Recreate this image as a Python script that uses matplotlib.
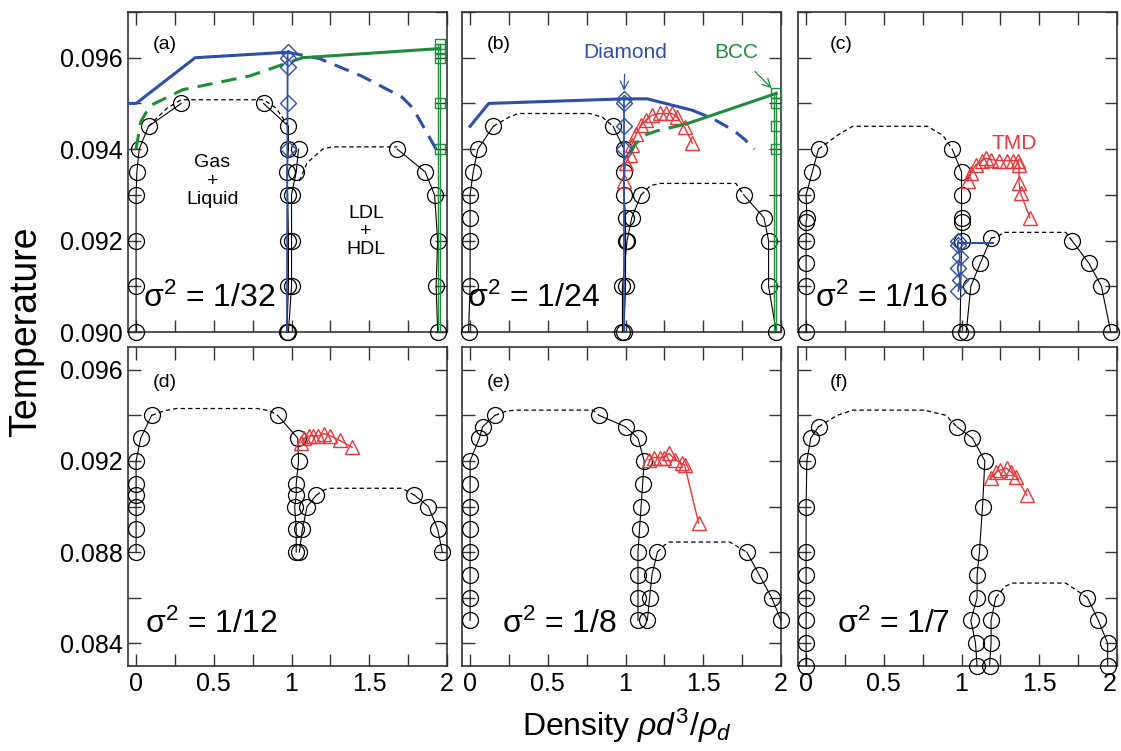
import matplotlib
matplotlib.use('Agg')
import matplotlib.pyplot as plt
from matplotlib.ticker import MultipleLocator, FuncFormatter

plt.rcParams['font.family'] = ['Liberation Sans', 'DejaVu Sans']
plt.rcParams['mathtext.fontset'] = 'custom'
plt.rcParams['mathtext.rm'] = 'Liberation Sans'
plt.rcParams['mathtext.it'] = 'Liberation Sans:italic'
plt.rcParams['mathtext.sf'] = 'Liberation Sans'

BLUE = '#2f4fa6'
GREEN = '#1e8c3a'
RED = '#e8363a'

# ---- panel (a) sigma^2 = 1/32
a_vap_x = [0.0, 0.0, 0.0, 0.0, 0.005, 0.02, 0.08, 0.29]
a_vap_y = [0.090, 0.091, 0.092, 0.093, 0.0935, 0.094, 0.0945, 0.0950]
a_gld_x = [0.08, 0.2, 0.29, 0.82, 0.9, 0.98]
a_gld_y = [0.0945, 0.0949, 0.09508, 0.09508, 0.0949, 0.0945]
a_liq_x = [0.82, 0.98, 0.98, 0.97, 0.975, 0.98, 0.98, 0.97]
a_liq_y = [0.0950, 0.0945, 0.0940, 0.0935, 0.0930, 0.0920, 0.0910, 0.0900]
a_ldl_x = [1.045, 1.03, 1.0, 1.0, 1.0, 0.98]
a_ldl_y = [0.094, 0.0935, 0.093, 0.092, 0.091, 0.090]
a_lld_x = [1.05, 1.1, 1.2, 1.26, 1.68]
a_lld_y = [0.0933, 0.0937, 0.0940, 0.09405, 0.09405]
a_hdl_x = [1.68, 1.86, 1.92, 1.94, 1.93, 1.94]
a_hdl_y = [0.0940, 0.0935, 0.0930, 0.0920, 0.0910, 0.0900]
a_dia_line_x = [-0.052, 0.0, 0.38, 0.975]
a_dia_line_y = [0.0950, 0.0950, 0.0960, 0.09612]
a_dia_dash_x = [0.975, 1.18, 1.45, 1.71, 1.78, 1.93]
a_dia_dash_y = [0.09612, 0.09598, 0.0956, 0.09514, 0.0949, 0.0940]
a_dia_x = [0.975, 0.975, 0.975, 0.975, 0.975]
a_dia_y = [0.09612, 0.0960, 0.0958, 0.0950, 0.0940]
a_bcc_dash_x = [0.0, 0.03, 0.09, 0.30, 0.73, 1.07]
a_bcc_dash_y = [0.0940, 0.0946, 0.09495, 0.0953, 0.0956, 0.0960]
a_bcc_line_x = [1.07, 1.955]
a_bcc_line_y = [0.0960, 0.0962]
a_bcc_x = [1.955, 1.955, 1.955, 1.955, 1.955]
a_bcc_y = [0.0963, 0.0962, 0.0960, 0.0950, 0.0940]

# ---- panel (b) sigma^2 = 1/24
b_vap_x = [-0.01, 0.0, 0.0, 0.0, 0.0, 0.02, 0.05, 0.15]
b_vap_y = [0.090, 0.091, 0.092, 0.0925, 0.093, 0.0935, 0.094, 0.0945]
b_gld_x = [0.15, 0.25, 0.31, 0.77, 0.85, 0.92]
b_gld_y = [0.0945, 0.0947, 0.09478, 0.09478, 0.0947, 0.0945]
b_liq_x = [0.92, 0.99, 0.99, 0.99, 1.0, 1.0, 1.0, 0.99]
b_liq_y = [0.0945, 0.0940, 0.0935, 0.0930, 0.0925, 0.0920, 0.0910, 0.0900]
b_ldl_x = [1.10, 1.04, 1.01, 0.98, 0.98]
b_ldl_y = [0.0930, 0.0925, 0.0920, 0.0910, 0.0900]
b_lld_x = [1.10, 1.16, 1.22, 1.71, 1.76]
b_lld_y = [0.0930, 0.0932, 0.09325, 0.09325, 0.0930]
b_hdl_x = [1.76, 1.89, 1.92, 1.92, 1.97]
b_hdl_y = [0.0930, 0.0925, 0.0920, 0.0910, 0.0900]
b_dia_line_x = [0.0, 0.12, 0.99, 1.14, 1.43]
b_dia_line_y = [0.0945, 0.0950, 0.0951, 0.0951, 0.09485]
b_dia_dash_x = [1.43, 1.56, 1.70, 1.77, 1.83]
b_dia_dash_y = [0.09485, 0.09467, 0.0944, 0.0942, 0.0940]
b_dia_x = [0.99, 0.99, 0.99, 0.99]
b_dia_y = [0.0951, 0.0950, 0.0945, 0.0940]
b_bcc_dash_x = [1.03, 1.06, 1.12, 1.2, 1.39]
b_bcc_dash_y = [0.0939, 0.0941, 0.0943, 0.0944, 0.09455]
b_bcc_line_x = [1.39, 1.97]
b_bcc_line_y = [0.09455, 0.09522]
b_bcc_x = [1.97, 1.97, 1.97, 1.97]
b_bcc_y = [0.09522, 0.0950, 0.0945, 0.0940]
b_tmd_x = [0.99, 1.0, 1.03, 1.04, 1.07, 1.10, 1.13, 1.17, 1.22, 1.26, 1.30, 1.33, 1.38, 1.43]
b_tmd_y = [0.0933, 0.0937, 0.09387, 0.0941, 0.09434, 0.09452, 0.09463, 0.09474,
           0.09478, 0.09478, 0.09478, 0.0947, 0.09448, 0.09413]

# ---- panel (c) sigma^2 = 1/16
c_vap_x = [0.0, 0.0, 0.0, 0.0, 0.0, 0.005, 0.0, 0.04, 0.08]
c_vap_y = [0.090, 0.091, 0.0915, 0.092, 0.0924, 0.0925, 0.093, 0.0935, 0.094]
c_gld_x = [0.08, 0.2, 0.30, 0.78, 0.88, 0.94]
c_gld_y = [0.094, 0.0943, 0.0945, 0.0945, 0.0943, 0.094]
c_liq_x = [0.94, 1.0, 1.0, 1.0, 1.0, 1.0, 0.99]
c_liq_y = [0.094, 0.0935, 0.093, 0.0925, 0.0924, 0.092, 0.090]
c_ldl_x = [1.19, 1.12, 1.06, 1.03]
c_ldl_y = [0.09205, 0.0915, 0.091, 0.090]
c_lld_x = [1.19, 1.24, 1.27, 1.67, 1.71]
c_lld_y = [0.09205, 0.0921, 0.09218, 0.09218, 0.0920]
c_hdl_x = [1.71, 1.82, 1.90, 1.96]
c_hdl_y = [0.0920, 0.0915, 0.0910, 0.0900]
c_dia_x = [0.98, 0.99, 0.975, 0.99, 0.975, 0.98]
c_dia_y = [0.0909, 0.09114, 0.0914, 0.09164, 0.0919, 0.0920]
c_dia_line_x = [0.98, 1.2]
c_dia_line_y = [0.09195, 0.09195]
c_tmd_x = [1.04, 1.06, 1.09, 1.13, 1.16, 1.19, 1.24, 1.29, 1.33, 1.36, 1.37, 1.37, 1.38, 1.44]
c_tmd_y = [0.0933, 0.09347, 0.09365, 0.09375, 0.0938, 0.09377, 0.09375, 0.09375,
           0.09375, 0.09375, 0.09365, 0.09325, 0.09303, 0.0925]

# ---- panel (d) sigma^2 = 1/12
d_vap_x = [0.0, 0.0, 0.0, 0.0, 0.0, 0.0, 0.03, 0.10]
d_vap_y = [0.088, 0.089, 0.090, 0.0905, 0.091, 0.092, 0.093, 0.094]
d_gld_x = [0.10, 0.18, 0.26, 0.78, 0.86, 0.91]
d_gld_y = [0.094, 0.0942, 0.0943, 0.0943, 0.0942, 0.094]
d_liq_x = [0.91, 1.04, 1.045, 1.03, 1.03, 1.02, 1.03, 1.03]
d_liq_y = [0.094, 0.093, 0.092, 0.091, 0.0905, 0.090, 0.089, 0.088]
d_ldl_x = [1.16, 1.10, 1.07, 1.05]
d_ldl_y = [0.0905, 0.090, 0.089, 0.088]
d_lld_x = [1.16, 1.2, 1.24, 1.71, 1.79]
d_lld_y = [0.0905, 0.0907, 0.0908, 0.0908, 0.0905]
d_hdl_x = [1.79, 1.88, 1.94, 1.97]
d_hdl_y = [0.0905, 0.090, 0.089, 0.088]
d_tmd_x = [1.06, 1.08, 1.11, 1.14, 1.17, 1.21, 1.25, 1.31, 1.39]
d_tmd_y = [0.0928, 0.0930, 0.0931, 0.0931, 0.0931, 0.0932, 0.0931, 0.0929, 0.0926]

# ---- panel (e) sigma^2 = 1/8
e_vap_x = [0.0, 0.0, 0.0, 0.0, 0.0, 0.0, 0.0, 0.0, 0.06, 0.08, 0.16]
e_vap_y = [0.085, 0.086, 0.087, 0.088, 0.089, 0.090, 0.091, 0.092, 0.093, 0.0935, 0.094]
e_gld_x = [0.16, 0.24, 0.30, 0.79, 0.83]
e_gld_y = [0.094, 0.0942, 0.09423, 0.09423, 0.094]
e_liq_x = [0.83, 1.0, 1.08, 1.12, 1.11, 1.10, 1.09, 1.08, 1.08, 1.08, 1.08]
e_liq_y = [0.094, 0.0935, 0.093, 0.092, 0.091, 0.090, 0.089, 0.088, 0.087, 0.086, 0.085]
e_ldl_x = [1.205, 1.17, 1.155, 1.14]
e_ldl_y = [0.088, 0.087, 0.086, 0.085]
e_lld_x = [1.205, 1.25, 1.28, 1.67, 1.78]
e_lld_y = [0.088, 0.0883, 0.08844, 0.08844, 0.088]
e_hdl_x = [1.78, 1.86, 1.94, 2.0]
e_hdl_y = [0.088, 0.087, 0.086, 0.085]
e_tmd_x = [1.15, 1.18, 1.22, 1.25, 1.28, 1.32, 1.36, 1.38, 1.47]
e_tmd_y = [0.09204, 0.09215, 0.09215, 0.09215, 0.09233, 0.09204, 0.0919, 0.09182, 0.08927]

# ---- panel (f) sigma^2 = 1/7
f_vap_x = [0.0, 0.0, 0.0, 0.0, 0.0, 0.0, 0.0, 0.005, 0.03, 0.08]
f_vap_y = [0.083, 0.084, 0.085, 0.086, 0.087, 0.088, 0.090, 0.092, 0.093, 0.0935]
f_gld_x = [0.08, 0.2, 0.30, 0.76, 0.9, 0.97]
f_gld_y = [0.0935, 0.0940, 0.09423, 0.09423, 0.0940, 0.0935]
f_liq_x = [0.97, 1.07, 1.15, 1.135, 1.115, 1.10, 1.10, 1.06, 1.09, 1.10]
f_liq_y = [0.0935, 0.093, 0.092, 0.090, 0.088, 0.087, 0.086, 0.085, 0.084, 0.083]
f_ldl_x = [1.22, 1.19, 1.19, 1.18]
f_ldl_y = [0.086, 0.085, 0.084, 0.083]
f_lld_x = [1.22, 1.28, 1.33, 1.67, 1.81]
f_lld_y = [0.086, 0.0865, 0.08664, 0.08664, 0.086]
f_hdl_x = [1.81, 1.88, 1.94, 1.94]
f_hdl_y = [0.086, 0.085, 0.084, 0.083]
f_tmd_x = [1.19, 1.22, 1.25, 1.29, 1.32, 1.35, 1.42]
f_tmd_y = [0.09125, 0.0915, 0.0916, 0.09168, 0.0915, 0.0913, 0.0905]

sigma_labels = ['1/32', '1/24', '1/16', '1/12', '1/8', '1/7']
panel_letters = ['(a)', '(b)', '(c)', '(d)', '(e)', '(f)']


def circles(ax, x, y):
    ax.plot(x, y, '-', color='k', lw=0.8, marker='o', ms=11.5,
            mfc='none', mec='k', mew=0.9, zorder=3, clip_on=False)


def dashed(ax, x, y):
    ax.plot(x, y, color='k', lw=0.9, dashes=(3.5, 2.5), zorder=2)


def envelope(ax, vx, vy, gx, gy, lx, ly, dx, dy, hx, hy, mx, my):
    dashed(ax, gx, gy)
    dashed(ax, mx, my)
    circles(ax, vx, vy)
    circles(ax, lx, ly)
    circles(ax, dx, dy)
    circles(ax, hx, hy)


def tmd(ax, x, y):
    ax.plot(x, y, '-', color=RED, lw=1.0, marker='^', ms=9.5,
            mfc='none', mec=RED, mew=1.0, zorder=4)


fig = plt.figure(figsize=(11.21, 7.51), dpi=100)
W, H = 1121.0, 751.0
lefts = [128, 462, 798]
rows = [(12, 332), (347, 666)]
axes = []
for r, (top, bot) in enumerate(rows):
    for c, lft in enumerate(lefts):
        ax = fig.add_axes([lft / W, 1 - bot / H, 319 / W, (bot - top) / H])
        axes.append(ax)

for i, ax in enumerate(axes):
    top_row = i < 3
    ax.set_xlim(-0.052, 2.0)
    if top_row:
        ax.set_ylim(0.090, 0.097)
        ax.yaxis.set_major_locator(MultipleLocator(0.001))
        ax.yaxis.set_major_formatter(FuncFormatter(
            lambda v, p: f'{v:.3f}' if round(v * 1000) % 2 == 0 and v < 0.0965 else ''))
    else:
        ax.set_ylim(0.083, 0.097)
        ax.yaxis.set_major_locator(MultipleLocator(0.002))
        ax.yaxis.set_major_formatter(FuncFormatter(
            lambda v, p: f'{v:.3f}' if round(v * 1000) % 4 == 0 and v < 0.0965 else ''))
    ax.xaxis.set_major_locator(MultipleLocator(0.25))
    ax.xaxis.set_major_formatter(FuncFormatter(
        lambda v, p: f'{v:g}' if abs(v * 2 - round(v * 2)) < 1e-6 and v >= 0 else ''))
    ax.tick_params(direction='in', length=9, width=1.0, top=True, right=True,
                   labelsize=18, pad=4, color='#333333')
    if top_row:
        ax.tick_params(labelbottom=False)
    if i % 3 != 0:
        ax.tick_params(labelleft=False)
    for s in ax.spines.values():
        s.set_linewidth(1.2)
        s.set_color('#333333')
    ax.text(0.078 if i % 3 != 2 else 0.10, 0.897 if top_row else 0.89, panel_letters[i],
            transform=ax.transAxes, fontsize=14, va='center', ha='left')

sig_pos = [(0.047, 0.078), (0.016, 0.078), (0.053, 0.078),
           (0.053, 0.103), (0.125, 0.103), (0.122, 0.103)]
for i, ax in enumerate(axes):
    ax.text(sig_pos[i][0], sig_pos[i][1], r'$\mathrm{\sigma}^{2}$ = ' + sigma_labels[i],
            transform=ax.transAxes, fontsize=23, ha='left', va='baseline', zorder=6)

ax_a, ax_b, ax_c, ax_d, ax_e, ax_f = axes

# (a)
ax = ax_a
ax.plot(a_dia_line_x, a_dia_line_y, '-', color=BLUE, lw=2.2, zorder=5)
ax.plot(a_dia_dash_x, a_dia_dash_y, color=BLUE, lw=2.2, dashes=(5, 3), zorder=5)
ax.plot(a_bcc_dash_x, a_bcc_dash_y, color=GREEN, lw=2.2, dashes=(5, 3), zorder=5)
ax.plot(a_bcc_line_x, a_bcc_line_y, '-', color=GREEN, lw=2.2, zorder=5)
ax.plot([a_bcc_x[0], a_bcc_x[0]], [a_bcc_y[0], 0.090], '-', color=GREEN, lw=1.0, zorder=4)
ax.plot([a_bcc_x[0] - 0.015, a_bcc_x[0] - 0.015], [a_bcc_y[0], 0.090], '-', color=GREEN, lw=1.0, zorder=4)
envelope(ax, a_vap_x, a_vap_y, a_gld_x, a_gld_y, a_liq_x, a_liq_y,
         a_ldl_x, a_ldl_y, a_hdl_x, a_hdl_y, a_lld_x, a_lld_y)
ax.plot([a_dia_x[0], 0.97], [a_dia_y[0], 0.090], '-', color=BLUE, lw=1.3, zorder=5)
ax.plot(a_dia_x, a_dia_y, 'D', ms=8, mfc='none', mec=BLUE, mew=1.0, zorder=6)
ax.plot(a_bcc_x, a_bcc_y, 's', ms=7.5, mfc='none', mec=GREEN, mew=1.0, zorder=6, clip_on=False)
ax.text(0.49, 0.0933, 'Gas\n+\nLiquid', fontsize=14, ha='center', va='center', linespacing=1.1)
ax.text(1.48, 0.0922, 'LDL\n+\nHDL', fontsize=14, ha='center', va='center', linespacing=1.1)

# (b)
ax = ax_b
ax.plot(b_dia_line_x, b_dia_line_y, '-', color=BLUE, lw=2.2, zorder=5)
ax.plot(b_dia_dash_x, b_dia_dash_y, color=BLUE, lw=2.2, dashes=(5, 3), zorder=5)
ax.plot(b_bcc_dash_x, b_bcc_dash_y, color=GREEN, lw=2.2, dashes=(5, 3), zorder=5)
ax.plot(b_bcc_line_x, b_bcc_line_y, '-', color=GREEN, lw=2.2, zorder=5)
ax.plot([b_bcc_x[0], b_bcc_x[0]], [b_bcc_y[0], 0.090], '-', color=GREEN, lw=1.0, zorder=4)
ax.plot([b_bcc_x[0] - 0.015, b_bcc_x[0] - 0.015], [b_bcc_y[0], 0.090], '-', color=GREEN, lw=1.0, zorder=4)
envelope(ax, b_vap_x, b_vap_y, b_gld_x, b_gld_y, b_liq_x, b_liq_y,
         b_ldl_x, b_ldl_y, b_hdl_x, b_hdl_y, b_lld_x, b_lld_y)
ax.plot([b_dia_x[0], 0.99], [b_dia_y[0], 0.090], '-', color=BLUE, lw=1.3, zorder=5)
ax.plot(b_dia_x, b_dia_y, 'D', ms=8, mfc='none', mec=BLUE, mew=1.0, zorder=6)
ax.plot(b_bcc_x, b_bcc_y, 's', ms=7.5, mfc='none', mec=GREEN, mew=1.0, zorder=6, clip_on=False)
tmd(ax, b_tmd_x, b_tmd_y)
ax.annotate('Diamond', xy=(0.99, 0.09528), xytext=(1.0, 0.09612), color=BLUE,
            fontsize=15, ha='center', va='center',
            arrowprops=dict(arrowstyle='->', color=BLUE, lw=0.9, shrinkA=7, shrinkB=0))
ax.annotate('BCC', xy=(1.94, 0.09533), xytext=(1.71, 0.09612), color=GREEN,
            fontsize=15, ha='center', va='center',
            arrowprops=dict(arrowstyle='->', color=GREEN, lw=0.9, shrinkA=7, shrinkB=0))

# (c)
ax = ax_c
envelope(ax, c_vap_x, c_vap_y, c_gld_x, c_gld_y, c_liq_x, c_liq_y,
         c_ldl_x, c_ldl_y, c_hdl_x, c_hdl_y, c_lld_x, c_lld_y)
ax.plot(c_dia_x, c_dia_y, '-', color=BLUE, lw=1.3, marker='D', ms=8,
        mfc='none', mec=BLUE, mew=1.0, zorder=6)
ax.plot(c_dia_line_x, c_dia_line_y, '-', color=BLUE, lw=1.5, zorder=6)
tmd(ax, c_tmd_x, c_tmd_y)
ax.text(1.34, 0.09413, 'TMD', color=RED, fontsize=15, ha='center', va='center')

# (d)
envelope(ax_d, d_vap_x, d_vap_y, d_gld_x, d_gld_y, d_liq_x, d_liq_y,
         d_ldl_x, d_ldl_y, d_hdl_x, d_hdl_y, d_lld_x, d_lld_y)
tmd(ax_d, d_tmd_x, d_tmd_y)

# (e)
envelope(ax_e, e_vap_x, e_vap_y, e_gld_x, e_gld_y, e_liq_x, e_liq_y,
         e_ldl_x, e_ldl_y, e_hdl_x, e_hdl_y, e_lld_x, e_lld_y)
tmd(ax_e, e_tmd_x, e_tmd_y)

# (f)
envelope(ax_f, f_vap_x, f_vap_y, f_gld_x, f_gld_y, f_liq_x, f_liq_y,
         f_ldl_x, f_ldl_y, f_hdl_x, f_hdl_y, f_lld_x, f_lld_y)
tmd(ax_f, f_tmd_x, f_tmd_y)

fig.text(26 / W, 1 - 332 / H, 'Temperature', rotation=90, fontsize=27,
         ha='center', va='center')
fig.text(627 / W, 1 - 726 / H, r'Density $\rho d^{3}/\rho_{d}$', fontsize=23,
         ha='center', va='center')

fig.canvas.draw()
for lab in ax_f.get_xticklabels():
    if lab.get_text() == '2':
        lab.set_ha('right')

fig.savefig('out.png', dpi=100)
